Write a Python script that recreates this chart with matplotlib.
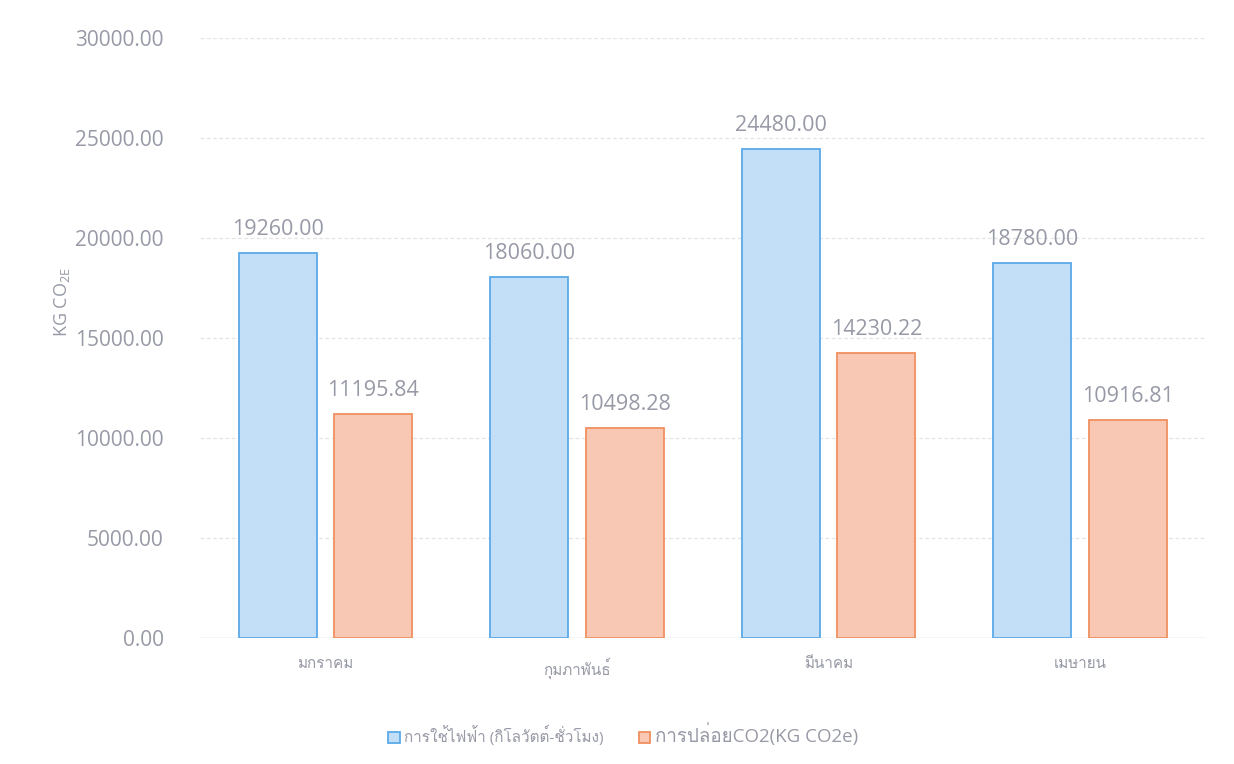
import matplotlib
matplotlib.use("Agg")
import matplotlib.pyplot as plt
from matplotlib import font_manager
from matplotlib.ft2font import FT2Font
import numpy as np

months = ["มกราคม", "กุมภาพันธ์", "มีนาคม", "เมษายน"]
electricity = [19260.00, 18060.00, 24480.00, 18780.00]
emission = [11195.84, 10498.28, 14230.22, 10916.81]
series_names = ["การใช้ไฟฟ้า (กิโลวัตต์-ชั่วโมง)", "การปล่อยCO2(KG CO2e)"]
yticks = [0, 5000, 10000, 15000, 20000, 25000, 30000]


def find_thai_font():
    """Look for any installed font that has Thai glyphs."""
    for f in font_manager.fontManager.ttflist:
        try:
            ft = FT2Font(f.fname)
            if 0x0E01 in ft.get_charmap() and 0x0E21 in ft.get_charmap():
                return f.name
        except Exception:
            continue
    return None


thai = find_thai_font()
families = ["Open Sans", "DejaVu Sans"]
if thai:
    families = ["Open Sans", thai, "DejaVu Sans"]
plt.rcParams["font.family"] = families
plt.rcParams["mathtext.default"] = "regular"

text_col = "#979aa6"
blue_fill, blue_edge = "#c2dff7", "#5aa9e8"
orange_fill, orange_edge = "#f9c8b4", "#f0905f"

fig = plt.figure(figsize=(12.34, 7.64), dpi=100)
ax = fig.add_axes([0.162, 0.165, 0.815, 0.785])

x = np.arange(len(months))
w = 0.31
off = 0.19
b1 = ax.bar(x - off, electricity, w, color=blue_fill, edgecolor=blue_edge,
            linewidth=1.3, label=series_names[0], zorder=3)
b2 = ax.bar(x + off, emission, w, color=orange_fill, edgecolor=orange_edge,
            linewidth=1.3, label=series_names[1], zorder=3)

for bars, vals in ((b1, electricity), (b2, emission)):
    for r, v in zip(bars, vals):
        ax.text(r.get_x() + r.get_width() / 2, v + 650, "%.2f" % v,
                ha="center", va="bottom", fontsize=15.5, color=text_col)

ax.set_xlim(-0.5, len(months) - 0.5)
ax.set_ylim(0, 30000)
ax.set_yticks(yticks)
ax.set_yticklabels(["%.2f" % t for t in yticks], fontsize=15, color=text_col)
ax.set_xticks(x)
ax.set_xticklabels(months, fontsize=11, color=text_col)
ax.tick_params(axis="x", length=0, pad=14)
ax.tick_params(axis="y", length=0, pad=26)
ax.grid(axis="y", color="#e4e4e4", linewidth=0.9, linestyle=(0, (3, 2)), zorder=0)
for s in ax.spines.values():
    s.set_visible(False)
ax.axhline(0, color="#dcdcdc", linewidth=1, zorder=2)

ax.set_ylabel("KG CO$_{2E}$", fontsize=13, color=text_col)
ax.yaxis.set_label_coords(-0.127, 0.56)

leg = fig.legend(handles=[b1, b2], loc="center", bbox_to_anchor=(0.505, 0.038),
                 ncol=2, frameon=False, handlelength=0.8, handleheight=0.8,
                 handletextpad=0.3, columnspacing=2.6)
leg.get_texts()[0].set_fontsize(11)
leg.get_texts()[1].set_fontsize(13.5)
for t in leg.get_texts():
    t.set_color(text_col)

fig.savefig("out.png", dpi=100, facecolor="white")
